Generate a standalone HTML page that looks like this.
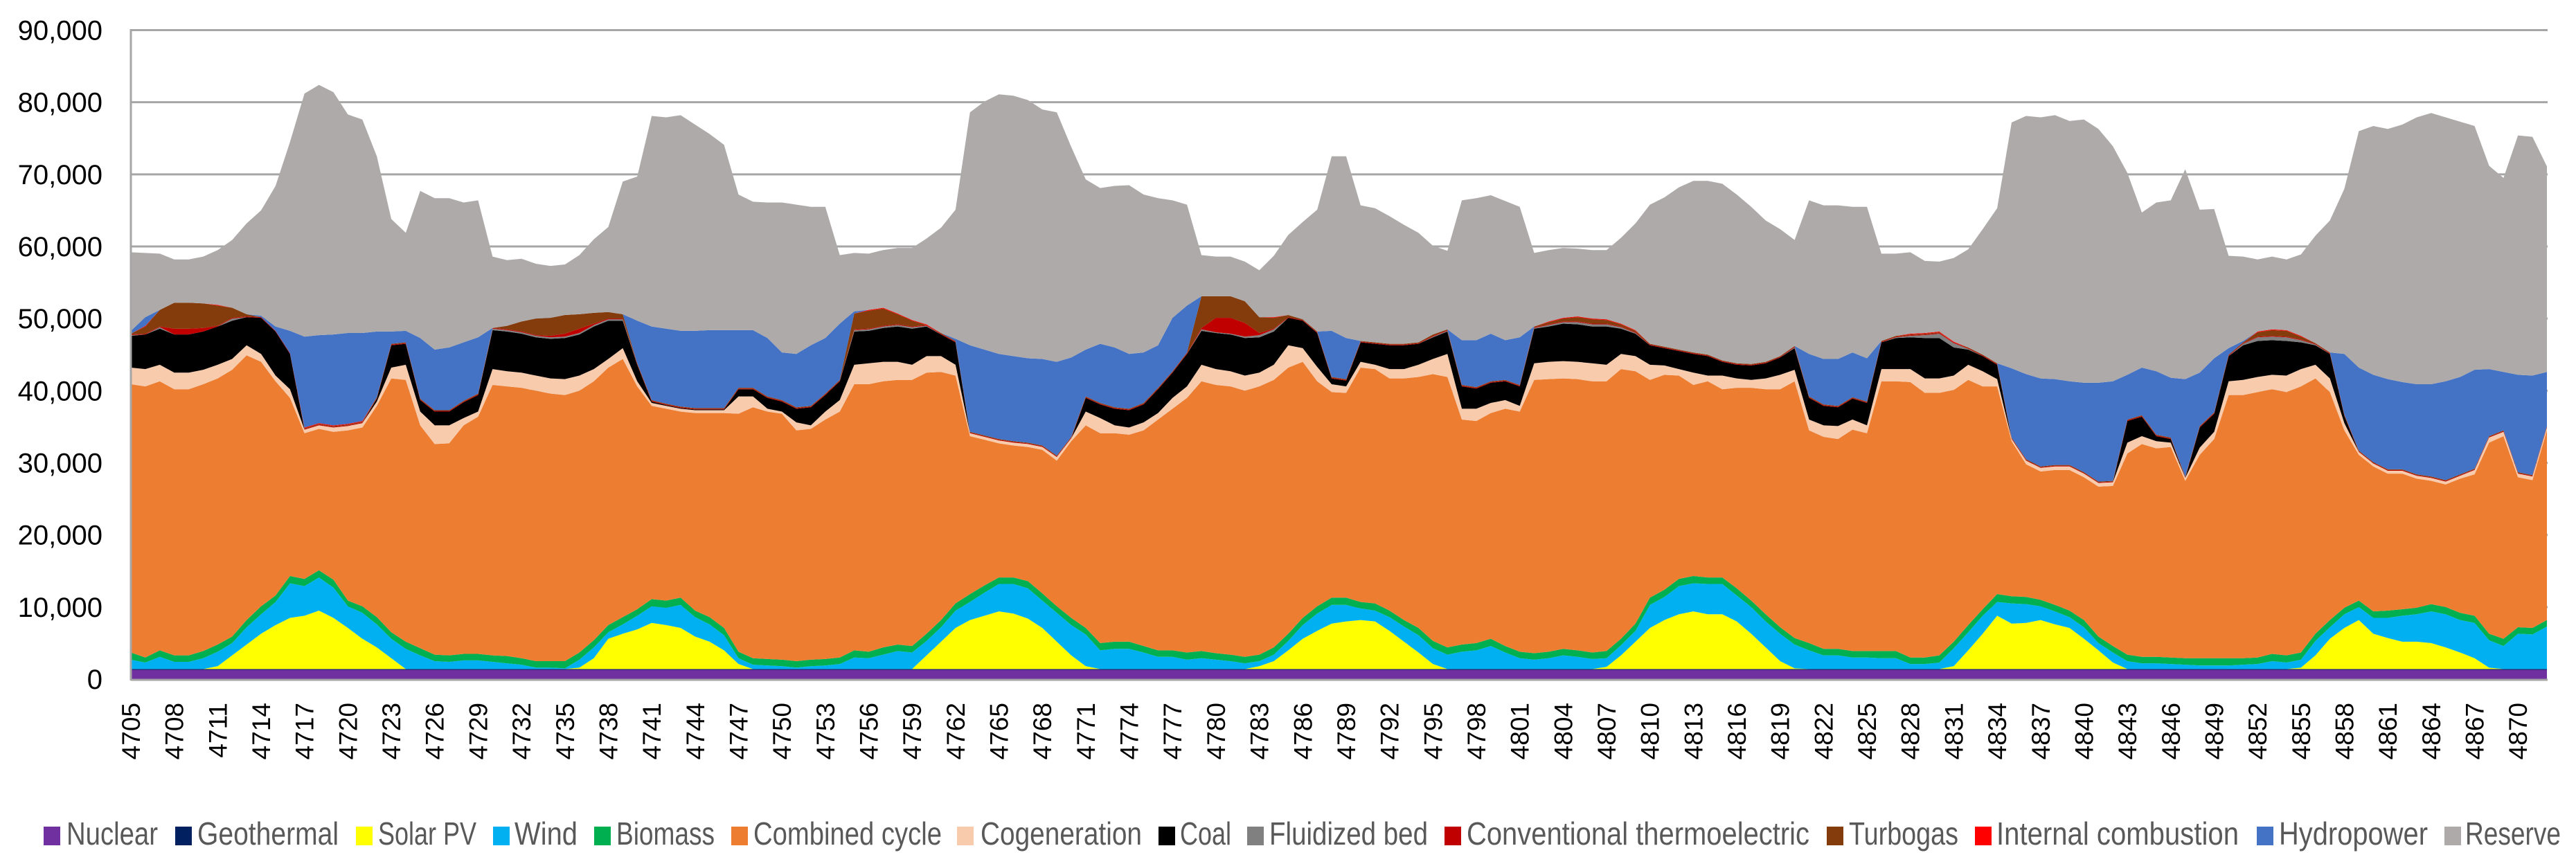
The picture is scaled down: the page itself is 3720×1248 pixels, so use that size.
<!DOCTYPE html>
<html><head><meta charset="utf-8"><title>Generation stack</title>
<style>html,body{margin:0;padding:0;background:#fff}svg{display:block}text{font-family:"Liberation Sans",Arial,sans-serif}</style>
</head><body>
<svg id="chart" width="3720" height="1248" viewBox="0 0 3720 1248" xmlns="http://www.w3.org/2000/svg">
<rect width="3720" height="1248" fill="#fff"/>
<g id="grid"></g>
<g id="areas"></g>
<g id="axes"></g>
<g id="legend"></g>
</svg>
<script>
const hours = [];
for (let h = 4705; h <= 4872; h++) hours.push(h);
const yTicks = [0,10,20,30,40,50,60,70,80,90];
const yTickLabels = ["0","10,000","20,000","30,000","40,000","50,000","60,000","70,000","80,000","90,000"];

const nuclear = [1.3,1.3,1.3,1.3,1.3,1.3,1.3,1.3,1.3,1.3, 1.3,1.3,1.3,1.3,1.3,1.3,1.3,1.3,1.3,1.3, 1.3,1.3,1.3,1.3,1.3,1.3,1.3,1.3,1.3,1.3, 1.3,1.3,1.3,1.3,1.3,1.3,1.3,1.3,1.3,1.3, 1.3,1.3,1.3,1.3,1.3,1.3,1.3,1.3,1.3,1.3, 1.3,1.3,1.3,1.3,1.3,1.3,1.3,1.3,1.3,1.3, 1.3,1.3,1.3,1.3,1.3,1.3,1.3,1.3,1.3,1.3, 1.3,1.3,1.3,1.3,1.3,1.3,1.3,1.3,1.3,1.3, 1.3,1.3,1.3,1.3,1.3,1.3,1.3,1.3,1.3,1.3, 1.3,1.3,1.3,1.3,1.3,1.3,1.3,1.3,1.3,1.3, 1.3,1.3,1.3,1.3,1.3,1.3,1.3,1.3,1.3,1.3, 1.3,1.3,1.3,1.3,1.3,1.3,1.3,1.3,1.3,1.3, 1.3,1.3,1.3,1.3,1.3,1.3,1.3,1.3,1.3,1.3, 1.3,1.3,1.3,1.3,1.3,1.3,1.3,1.3,1.3,1.3, 1.3,1.3,1.3,1.3,1.3,1.3,1.3,1.3,1.3,1.3, 1.3,1.3,1.3,1.3,1.3,1.3,1.3,1.3,1.3,1.3, 1.3,1.3,1.3,1.3,1.3,1.3,1.3,1.3];
const geothermal = [0.1,0.1,0.1,0.1,0.1,0.1,0.1,0.1,0.1,0.1, 0.1,0.1,0.1,0.1,0.1,0.1,0.1,0.1,0.1,0.1, 0.1,0.1,0.1,0.1,0.1,0.1,0.1,0.1,0.1,0.1, 0.1,0.1,0.1,0.1,0.1,0.1,0.1,0.1,0.1,0.1, 0.1,0.1,0.1,0.1,0.1,0.1,0.1,0.1,0.1,0.1, 0.1,0.1,0.1,0.1,0.1,0.1,0.1,0.1,0.1,0.1, 0.1,0.1,0.1,0.1,0.1,0.1,0.1,0.1,0.1,0.1, 0.1,0.1,0.1,0.1,0.1,0.1,0.1,0.1,0.1,0.1, 0.1,0.1,0.1,0.1,0.1,0.1,0.1,0.1,0.1,0.1, 0.1,0.1,0.1,0.1,0.1,0.1,0.1,0.1,0.1,0.1, 0.1,0.1,0.1,0.1,0.1,0.1,0.1,0.1,0.1,0.1, 0.1,0.1,0.1,0.1,0.1,0.1,0.1,0.1,0.1,0.1, 0.1,0.1,0.1,0.1,0.1,0.1,0.1,0.1,0.1,0.1, 0.1,0.1,0.1,0.1,0.1,0.1,0.1,0.1,0.1,0.1, 0.1,0.1,0.1,0.1,0.1,0.1,0.1,0.1,0.1,0.1, 0.1,0.1,0.1,0.1,0.1,0.1,0.1,0.1,0.1,0.1, 0.1,0.1,0.1,0.1,0.1,0.1,0.1,0.1];
const solar = [0,0,0,0,0,0,0.4,1.9,3.4,4.9, 6.1,7.1,7.4,8.1,7.1,5.7,4.2,3.0,1.5,0, 0,0,0,0,0,0,0,0,0,0, 0,0.2,1.5,4.2,4.9,5.5,6.4,6.1,5.7,4.5, 3.8,2.6,0.7,0,0,0,0,0,0,0, 0,0,0,0,0,1.9,3.8,5.7,6.8,7.4, 8.0,7.7,7.0,5.7,3.8,1.9,0.4,0,0,0, 0,0,0,0,0,0,0,0,0.4,1.1, 2.6,4.2,5.3,6.3,6.6,6.8,6.6,5.3,3.8,2.3, 0.7,0,0,0,0,0,0,0,0,0, 0,0,0.3,1.9,3.8,5.7,6.8,7.6,8.0,7.6, 7.6,6.6,4.9,3.0,1.1,0.1,0,0,0,0, 0,0,0,0,0,0,0.4,2.6,4.9,7.4, 6.3,6.4,6.8,6.2,5.7,4.2,2.6,0.9,0,0, 0,0,0,0,0,0,0,0,0,0, 0.2,1.9,4.2,5.7,6.8,4.9,4.3,3.8,3.8,3.6, 3.0,2.3,1.5,0.2,0,0,0,0];
const wind = [1.3,0.9,1.7,1.0,1.0,1.5,2.0,1.7,2.4,2.7, 3.2,4.8,4.1,4.6,4.2,3.0,3.6,3.2,2.7,2.8, 1.9,1.1,1.0,1.2,1.2,1.0,0.8,0.6,0.2,0.2, 0.1,1.1,1.5,0.9,1.3,1.9,2.3,2.4,3.2,2.7, 2.4,2.1,0.8,0.6,0.5,0.4,0.2,0.4,0.5,0.7, 1.6,1.5,2.0,2.5,2.3,2.0,2.0,2.4,2.5,3.2, 3.8,4.1,4.2,3.8,4.0,4.2,4.4,2.6,2.8,2.8, 2.3,1.7,1.7,1.3,1.5,1.3,1.1,0.8,0.7,0.9, 1.3,1.9,2.4,2.6,2.3,1.6,1.5,1.9,2.1,2.4, 2.2,2.0,2.4,2.6,3.2,2.3,1.5,1.3,1.5,1.9, 1.7,1.4,1.2,1.4,1.5,3.2,3.2,3.9,3.9,4.2, 4.2,3.6,3.7,3.6,3.8,3.3,2.6,1.9,1.9,1.6, 1.6,1.5,1.5,0.7,0.7,0.9,2.5,2.5,2.5,1.9, 2.8,2.6,1.9,1.8,1.5,1.6,1.0,1.4,1.1,0.8, 0.8,0.7,0.6,0.5,0.5,0.5,0.6,0.7,1.1,0.9, 1.1,2.0,1.6,1.9,1.8,2.2,2.8,3.6,3.8,4.4, 4.6,4.5,4.9,3.8,3.2,4.9,4.8,5.9];
const biomass = [1.0,0.7,0.9,0.9,0.9,1.0,1.0,0.9,1.0,1.1, 0.9,1.0,1.0,1.0,1.1,0.8,0.9,1.0,0.9,1.0, 1.0,0.9,0.9,0.9,0.9,0.9,1.0,0.9,0.9,0.9, 1.0,1.0,1.0,1.0,1.0,0.9,1.0,1.0,1.0,0.9, 1.0,1.0,0.9,0.9,0.9,0.9,0.9,0.9,0.9,0.9, 1.0,0.9,1.0,0.9,0.9,1.0,1.0,1.0,1.1,1.0, 0.9,0.9,1.0,1.0,0.9,1.0,0.9,1.0,1.0,1.0, 0.9,0.9,0.9,1.0,1.0,0.9,0.9,0.9,0.9,1.0, 1.0,1.0,1.0,1.0,1.0,0.9,1.0,0.9,0.9,1.0, 1.0,1.0,1.0,1.0,1.0,0.9,0.9,0.9,0.9,0.9, 0.9,0.9,1.0,0.9,1.0,1.0,1.0,1.0,1.0,0.9, 0.9,1.0,0.9,1.0,0.9,0.9,1.0,0.9,0.9,0.9, 0.9,1.0,1.0,0.9,0.9,1.0,0.9,1.0,0.9,1.1, 1.0,1.0,0.9,0.9,0.9,1.0,0.9,0.9,0.9,0.9, 0.9,0.9,0.9,1.0,1.0,1.0,0.9,0.9,1.0,1.0, 1.0,1.0,1.0,0.9,0.9,0.9,1.0,0.9,0.9,1.0, 1.0,1.0,1.0,0.9,1.0,0.9,0.9,0.9];
const combinedCycle = [37.2,37.6,37.3,36.9,36.9,37.0,36.9,37.0,36.7,33.9, 29.7,24.7,20.2,19.6,20.5,23.6,24.8,29.3,35.2,36.3, 30.9,29.2,29.4,31.7,32.9,37.5,37.4,37.5,37.5,37.1, 36.9,36.3,35.9,35.7,35.8,30.9,26.8,26.6,25.8,27.4, 28.3,29.8,33.0,34.8,34.3,34.1,32.0,32.0,33.2,34.1, 36.9,37.1,36.9,36.7,36.9,36.2,34.4,31.6,21.9,20.2, 18.6,18.3,18.6,19.9,20.2,24.5,28.1,29.1,28.9,28.7, 29.9,32.0,33.5,35.3,37.4,37.2,37.2,36.9,37.2,37.1, 36.9,35.5,31.2,28.5,28.4,32.5,32.5,32.2,33.5,34.8, 37.0,37.5,31.2,30.8,31.3,32.9,33.3,37.9,37.8,37.5, 37.6,37.6,37.4,37.4,35.0,30.2,29.8,28.2,26.5,27.2, 26.1,27.8,29.5,31.2,33.0,35.6,29.5,29.4,29.1,30.7, 30.2,37.4,37.4,38.2,36.7,36.4,34.9,34.0,30.9,28.8, 21.5,18.4,17.8,18.7,19.5,19.8,20.8,22.2,27.9,29.5, 28.9,29.2,24.6,28.2,30.4,36.5,36.5,36.8,36.7,36.5, 36.9,35.4,31.6,24.6,20.2,20.1,19.0,18.8,17.9,17.1, 17.0,18.6,19.6,26.5,28.1,20.8,20.5,26.3];
const cogeneration = [2.3,2.4,2.3,2.3,2.3,2.0,1.9,1.5,1.4,1.1, 0.8,1.2,0.5,0.5,0.6,0.6,0.6,0.6,1.5,2.1, 1.9,2.6,2.5,1.0,0.7,2.2,2.1,2.1,2.1,2.1, 2.2,2.1,1.7,1.2,1.5,0.7,0.4,0.4,0.4,0.4, 0.4,0.4,2.4,1.5,0.4,0.3,1.1,0.5,1.1,1.6, 2.7,2.9,2.7,2.5,2.1,2.3,2.2,1.5,0.4,0.4, 0.4,0.4,0.4,0.4,0.5,0.4,1.9,2.1,1.1,1.0, 1.1,0.9,1.5,1.6,2.3,2.2,2.1,2.1,1.9,2.1, 3.1,1.9,2.0,1.1,0.9,0.8,0.6,1.3,1.3,1.7, 2.1,3.2,1.5,1.7,1.4,1.2,0.8,2.3,2.4,2.4, 2.4,2.5,2.3,2.1,2.1,2.1,1.3,0.9,1.7,0.8, 1.9,1.3,1.1,1.5,2.0,1.6,1.5,1.6,1.8,1.4, 1.1,1.7,1.7,1.8,2.0,2.0,2.0,2.1,2.1,1.0, 0.3,0.5,0.5,0.5,0.5,0.5,0.5,0.5,1.5,1.1, 1.0,0.6,0.4,1.0,1.0,1.9,2.1,2.1,2.0,2.3, 2.4,1.9,1.9,1.0,0.4,0.4,0.4,0.4,0.4,0.4, 0.4,0.4,0.6,0.7,0.6,0.5,0.5,0.4];
const coal = [4.4,4.8,5.0,5.3,5.3,5.3,5.3,5.3,3.9,5.0, 6.1,4.9,0,0,0,0,0,0.4,3.1,2.9, 1.6,1.9,1.9,2.2,2.3,5.4,5.5,5.4,5.3,5.5, 5.7,5.7,5.9,5.3,3.8,2.3,0.2,0.1,0.1,0.1, 0.1,0.1,1.0,1.0,1.5,1.4,1.9,2.5,2.3,2.6, 4.6,4.5,4.7,4.9,5.0,4.1,3.0,3.1,0,0, 0,0,0,0,0,0,1.9,1.9,2.3,2.4, 2.5,3.3,3.5,4.5,4.7,5.0,5.1,5.2,4.9,4.6, 3.8,3.8,4.7,0.8,0.8,2.7,2.9,3.3,3.3,2.9, 3.0,3.1,3.1,2.8,2.8,2.6,2.7,4.8,4.9,5.2, 5.2,5.1,5.3,3.5,3.1,2.7,2.4,2.5,2.6,2.7, 1.9,1.9,2.0,2.1,2.4,3.0,3.0,2.7,2.6,2.9, 3.1,3.7,4.3,4.4,5.6,5.6,3.9,2.1,2.1,2.0, 0,0,0,0,0,0,0,0,3.0,2.7, 0.7,0.5,0,2.8,2.5,3.5,4.8,5.0,4.8,4.8, 3.7,2.7,3.4,1.0,0,0,0,0,0,0, 0,0,0,0,0,0,0,0];
const fluidizedBed = [0.1,0,0.2,0,0,0,0,0.3,0,0, 0,0,0,0,0,0,0,0,0,0, 0,0,0,0,0,0.2,0.2,0.2,0.2,0.2, 0.2,0.2,0.2,0.2,0.2,0,0,0,0,0, 0,0,0,0,0,0,0,0,0,0, 0.2,0.2,0.2,0.2,0.2,0.1,0,0,0,0, 0,0,0,0,0,0,0,0,0,0, 0,0,0,0,0.2,0.1,0.1,0.2,0.3,0.3, 0,0,0,0,0,0,0,0,0,0, 0.1,0.1,0,0,0,0,0,0.1,0.2,0.2, 0.3,0.3,0.3,0.2,0.1,0,0,0,0,0, 0,0,0,0,0,0.1,0,0,0,0, 0,0,0.1,0.2,0.4,0.6,0.6,0.1,0,0, 0,0,0,0,0,0,0,0,0,0, 0,0,0,0,0,0,0.2,0.5,0.5,0.5, 0.3,0.1,0,0,0,0,0,0,0,0, 0,0,0,0,0,0,0,0];
const conventionalThermo = [0.1,0.1,0.1,0.8,0.8,0.5,0.1,0.1,0.1,0.1, 0.1,0.1,0.1,0.1,0.1,0.1,0.1,0.1,0.1,0.1, 0.1,0.1,0.1,0.1,0.1,0.1,0.1,0.1,0.1,0.2, 0.4,0.6,0.2,0.1,0.1,0.1,0.1,0.1,0.1,0.1, 0.1,0.1,0.1,0.1,0.1,0.1,0.1,0.1,0.1,0.1, 0.1,0.1,0.1,0.1,0.1,0.1,0.1,0.1,0.1,0.1, 0.1,0.1,0.1,0.1,0.1,0.1,0.1,0.1,0.1,0.1, 0.1,0.1,0.1,0.1,0.2,2.0,2.2,1.9,0.3,0.1, 0.1,0.1,0.1,0.1,0.1,0.1,0.1,0.1,0.1,0.1, 0.1,0.1,0.1,0.1,0.1,0.1,0.1,0.1,0.1,0.1, 0.1,0.1,0.1,0.1,0.1,0.1,0.1,0.1,0.1,0.1, 0.1,0.1,0.1,0.1,0.1,0.1,0.1,0.1,0.1,0.1, 0.1,0.1,0.1,0.1,0.1,0.1,0.1,0.1,0.1,0.1, 0.1,0.1,0.1,0.1,0.1,0.1,0.1,0.1,0.1,0.1, 0.1,0.1,0.1,0.1,0.1,0.1,0.1,0.1,0.1,0.1, 0.1,0.1,0.1,0.1,0.1,0.1,0.1,0.1,0.1,0.1, 0.1,0.1,0.1,0.1,0.1,0.1,0.1,0.1];
const turbogas = [0.1,1.0,2.3,3.6,3.6,3.4,2.8,1.4,0.3,0, 0,0,0.1,0.1,0.1,0.1,0.1,0.1,0.1,0.1, 0.1,0.1,0.1,0.1,0.1,0,0.5,1.4,2.3,2.5, 2.6,2.0,1.5,0.9,0.6,0.1,0.1,0.1,0.1,0.1, 0.1,0.1,0.1,0.1,0.1,0.1,0.1,0.1,0.1,0.1, 2.2,2.5,2.4,1.4,0.8,0,0.1,0.1,0.1,0.1, 0.1,0.1,0.1,0.1,0.1,0.1,0.1,0.1,0.1,0.1, 0.1,0.1,0.1,0.1,4.4,3.0,3.0,3.0,2.2,1.5, 0.3,0.1,0.1,0.1,0.1,0.1,0.1,0.1,0.1,0.1, 0.2,0.1,0.1,0.1,0.1,0.1,0.1,0.1,0.3,0.4, 0.6,0.6,0.5,0.3,0.2,0.1,0.1,0.1,0.1,0.1, 0.1,0.1,0.1,0.1,0.1,0.1,0.1,0.1,0.1,0.1, 0.1,0.1,0.1,0.1,0.1,0.1,0,0.1,0.1,0.1, 0.1,0.1,0.1,0.1,0.1,0.1,0.1,0.1,0.1,0.1, 0.1,0.1,0.1,0.1,0.1,0.1,0.1,0.6,0.8,0.8, 0.4,0.1,0.1,0.1,0.1,0.1,0.1,0.1,0.1,0.1, 0.1,0.1,0.1,0.1,0.1,0.1,0.1,0.1];
const internalCombustion = [0,0.1,0,0,0,0,0.1,0,0,0, 0,0,0.1,0.1,0.1,0.1,0.1,0,0,0, 0,0,0,0,0,0,0,0,0,0, 0,0,0,0,0,0,0,0,0,0, 0,0,0,0,0,0,0,0,0,0, 0,0.1,0.1,0.1,0.1,0.1,0,0,0,0, 0,0,0,0,0,0,0,0,0,0, 0,0,0,0,0,0,0,0,0,0.1, 0,0,0,0,0,0,0,0,0,0, 0,0,0,0,0,0,0,0,0.1,0.1, 0.1,0.1,0.1,0.1,0.1,0,0,0,0,0, 0,0,0,0,0,0,0,0,0,0, 0,0,0,0.1,0.1,0.1,0.1,0,0,0, 0,0,0,0,0,0,0,0,0,0, 0,0,0,0,0,0,0,0.1,0.1,0.1, 0.1,0,0,0,0,0,0,0,0,0, 0,0,0,0,0,0,0,0];
const hydropower = [0.4,1.2,0,0,0,0,0,0,0,0.2, 0.6,3.1,12.6,12.2,12.6,12.6,12.2,9.1,1.7,1.6, 8.4,8.4,8.7,8.1,7.8,0,0,0,0,0, 0,0,0,0,0,5.9,10.2,10.4,10.5,10.7, 10.8,10.8,8.0,8.0,8.1,6.6,7.4,8.4,7.7,7.8, 0.3,0,0,0,0,0,0,0.3,12.0,11.9, 11.8,11.8,11.7,12.0,13.0,11.0,6.5,8.2,8.3,7.6, 7.0,5.9,7.4,6.5,0,0,0,0,0,0, 0,0,0,6.4,5.7,0,0,0,0,0, 0,0,6.2,6.5,6.6,5.5,6.6,0,0,0, 0,0,0,0,0,0,0,0,0,0, 0,0,0,0,0,0,5.9,6.3,6.5,6.2, 6.0,0,0,0,0,0,0,0,0,0, 9.6,11.8,12.2,11.9,11.6,12.4,13.7,13.8,6.2,6.6, 8.8,8.3,13.5,7.4,7.5,0.9,0.2,0,0,0, 0,0,0,8.4,11.5,12.1,12.5,12.1,12.5,12.8, 13.7,13.5,13.7,9.3,8.1,13.5,13.8,7.5];
const reserve = [10.9,8.9,7.8,6.0,6.0,6.5,7.6,9.4,12.6,14.6, 19.5,26.2,33.7,34.7,33.6,30.3,29.6,24.3,15.6,13.6, 20.4,21.0,20.7,19.4,19.0,9.9,9.1,8.7,7.6,7.2, 7.0,8.2,10.2,11.8,18.4,20.0,29.2,29.3,29.9,28.6, 27.2,25.7,18.8,17.8,18.8,20.8,20.7,19.2,18.2,9.5, 8.1,7.8,8.0,9.1,10.0,11.9,14.6,17.9,32.3,34.4, 36.0,36.1,35.8,34.6,34.6,29.2,23.6,21.6,22.4,23.4, 21.9,20.4,16.3,14.0,5.7,5.5,5.5,5.5,6.5,8.5, 11.1,13.5,16.9,24.2,25.2,18.8,18.6,17.7,16.5,15.2, 12.3,10.9,19.4,19.7,19.2,19.3,18.1,10.2,9.9,9.7, 9.4,9.5,9.6,11.9,14.8,19.3,20.7,22.5,23.8,24.1, 24.5,23.4,21.8,19.6,17.6,14.7,21.3,21.3,21.3,20.2, 21.0,12.1,11.4,11.3,10.0,9.7,11.6,13.6,17.4,21.5, 34.1,35.8,36.2,36.6,36.1,36.5,35.2,32.6,28.0,21.5, 23.4,24.6,29.1,22.6,20.7,12.8,11.7,10.0,10.1,9.8, 11.3,14.9,18.3,22.9,32.8,34.5,34.7,35.7,37.0,37.6, 36.6,35.4,33.8,28.2,26.9,33.2,33.1,28.5];

const seriesNames = ["Nuclear","Geothermal","Solar PV","Wind","Biomass","Combined cycle","Cogeneration","Coal","Fluidized bed","Conventional thermoelectric","Turbogas","Internal combustion","Hydropower","Reserve"];
const seriesKeys = ["nuclear","geothermal","solar-pv","wind","biomass","combined-cycle","cogeneration","coal","fluidized-bed","conventional-thermoelectric","turbogas","internal-combustion","hydropower","reserve"];
const seriesColors = ["#7030A0","#002060","#FFFF00","#00B0F0","#00B050","#ED7D31","#F8CBAD","#000000","#808080","#C00000","#843C0C","#FF0000","#4472C4","#AEAAAA"];
const seriesData = [nuclear,geothermal,solar,wind,biomass,combinedCycle,cogeneration,coal,fluidizedBed,conventionalThermo,turbogas,internalCombustion,hydropower,reserve];

const NS = "http://www.w3.org/2000/svg";
const X0 = 189, X1 = 3678, Y0 = 981, YMAX = 90, YTOP = 43.5;
function xScale(i){ return X0 + i * (X1 - X0) / (hours.length - 1); }
function yScale(v){ return Y0 - v * (Y0 - YTOP) / YMAX; }
function mk(tag, attrs, parent){ const e = document.createElementNS(NS, tag); for (const k in attrs) e.setAttribute(k, attrs[k]); parent.appendChild(e); return e; }

const grid = document.getElementById('grid');
yTicks.forEach((t, k) => {
  if (t === 0) return;
  const l = mk('line', {x1: X0, x2: X1 + 1, y1: yScale(t), y2: yScale(t), stroke: '#A6A6A6', 'stroke-width': 3}, grid);
  
  
});

const areas = document.getElementById('areas');
const base = hours.map(() => 0);
seriesData.forEach((arr, s) => {
  const lower = base.slice();
  const upper = base.map((b, i) => b + arr[i]);
  let d = '';
  upper.forEach((v, i) => { d += (i ? 'L' : 'M') + xScale(i).toFixed(2) + ' ' + yScale(v).toFixed(2); });
  for (let i = lower.length - 1; i >= 0; i--) d += 'L' + xScale(i).toFixed(2) + ' ' + yScale(lower[i]).toFixed(2);
  d += 'Z';
  const p = mk('path', {d: d, fill: seriesColors[s]}, areas);
  
  
  upper.forEach((v, i) => base[i] = v);
});

const axes = document.getElementById('axes');
const ya = mk('line', {x1: X0, x2: X0, y1: YTOP - 1.5, y2: Y0 + 2, stroke: '#A6A6A6', 'stroke-width': 3}, axes);


const xa = mk('line', {x1: X0, x2: X1 + 1, y1: Y0 + 1, y2: Y0 + 1, stroke: '#A6A6A6', 'stroke-width': 3}, axes);


yTicks.forEach((t, k) => {
  const tx = mk('text', {x: 148, y: yScale(t) + 14, 'text-anchor': 'end', 'font-size': 40, fill: '#000'}, axes);
  tx.textContent = yTickLabels[k];
  
  
});
hours.forEach((h, i) => {
  if (i % 3 !== 0) return;
  const x = xScale(i) + 13;
  const tx = mk('text', {x: x, y: 1015, transform: 'rotate(-90 ' + x + ' 1015)', 'text-anchor': 'end', 'font-size': 37, fill: '#000'}, axes);
  tx.textContent = String(h);
  
  
});

const legend = document.getElementById('legend');
const legSq = [63,253,514,712,858,1056,1382,1673,1801,2086,2638,2852,3259,3530];
const legTx = [[96,228],[285,489],[546,688],[743,834],[890,1032],[1088,1360],[1416,1649],[1704,1778],[1833,2062],[2118,2613],[2670,2828],[2883,3233],[3291,3506],[3560,3698]];
seriesNames.forEach((n, s) => {
  const g = mk('g', {}, legend);
  
  
  const r = mk('rect', {x: legSq[s], y: 1194, width: 24, height: 27, fill: seriesColors[s]}, g);
  
  
  const t = mk('text', {x: legTx[s][0], y: 1220, 'font-size': 46, fill: '#595959', textLength: legTx[s][1] - legTx[s][0], lengthAdjust: 'spacingAndGlyphs'}, g);
  t.textContent = n;
  
  
});
</script>
</body></html>
